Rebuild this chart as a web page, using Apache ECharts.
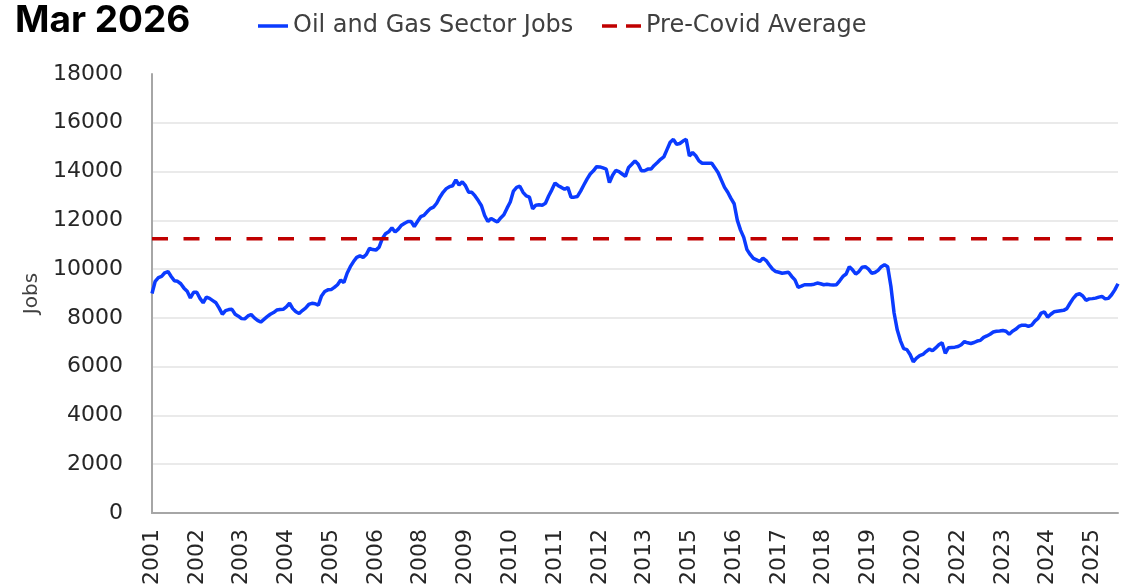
<!DOCTYPE html>
<html>
<head>
<meta charset="utf-8">
<title>Oil and Gas Sector Jobs</title>
<script src="https://cdn.jsdelivr.net/npm/echarts@6.0.0/dist/echarts.min.js"></script>
<style>
	html,body{margin:0;padding:0;background:#fff;}
	#chart{width:1122px;height:588px;}
</style>
</head>
<body>
<div id="chart"></div>
<script>
// monthly series, Jan 2001 .. Mar 2026
var startYear = 2001;
var jobs = [
	9000, 9500, 9650, 9700, 9850, 9900, 9700, 9520, 9500, 9400, 9220, 9090,          // 2001
	8820, 9050, 9050, 8800, 8620, 8850, 8800, 8710, 8620, 8400, 8150, 8300,          // 2002
	8340, 8350, 8150, 8070, 7970, 7960, 8080, 8140, 8000, 7900, 7830, 7940,          // 2003
	8050, 8150, 8220, 8320, 8340, 8350, 8450, 8600, 8380, 8250, 8180, 8300,          // 2004
	8400, 8550, 8600, 8580, 8520, 8900, 9080, 9150, 9160, 9250, 9360, 9550,          // 2005
	9450, 9830, 10100, 10310, 10480, 10540, 10480, 10600, 10850, 10800, 10780, 10900, // 2006
	11250, 11450, 11530, 11690, 11520, 11640, 11800, 11880, 11950, 11950, 11750, 11950, // 2007
	12150, 12200, 12350, 12480, 12540, 12700, 12950, 13150, 13300, 13380, 13420, 13660, // 2008
	13450, 13580, 13420, 13150, 13150, 13000, 12810, 12600, 12200, 11950, 12080, 12000, // 2009
	11930, 12100, 12230, 12500, 12750, 13200, 13350, 13400, 13150, 13000, 12950, 12470, // 2010
	12620, 12640, 12620, 12700, 13000, 13250, 13530, 13420, 13350, 13270, 13350, 12950, // 2011
	12950, 12980, 13200, 13450, 13690, 13900, 14030, 14200, 14190, 14150, 14100, 13550, // 2012
	13850, 14050, 14000, 13900, 13800, 14170, 14300, 14440, 14300, 14030, 14030, 14100, // 2013
	14100, 14250, 14370, 14500, 14600, 14900, 15200, 15320, 15120, 15150, 15250, 15320, // 2014
	14640, 14780, 14650, 14440, 14340, 14340, 14340, 14340, 14150, 13950, 13650, 13350, // 2015
	13150, 12900, 12680, 12000, 11600, 11300, 10800, 10600, 10440, 10380, 10310, 10450, // 2016
	10350, 10170, 10000, 9900, 9870, 9830, 9850, 9870, 9700, 9560, 9250, 9300,       // 2017
	9360, 9360, 9360, 9380, 9430, 9400, 9360, 9380, 9360, 9350, 9360, 9520,          // 2018
	9700, 9800, 10100, 9970, 9800, 9900, 10080, 10100, 10000, 9830, 9860, 9950,      // 2019
	10100, 10180, 10100, 9300, 8200, 7500, 7060, 6740, 6700, 6500, 6200, 6350,       // 2020
	6450, 6500, 6620, 6720, 6650, 6770, 6900, 6980, 6550, 6780, 6790, 6800,          // 2021
	6830, 6900, 7030, 6980, 6950, 6990, 7050, 7080, 7200, 7260, 7330, 7420,          // 2022
	7450, 7460, 7480, 7450, 7330, 7450, 7530, 7650, 7700, 7700, 7650, 7700,          // 2023
	7870, 7980, 8200, 8250, 8030, 8150, 8250, 8270, 8290, 8310, 8380, 8600,          // 2024
	8800, 8950, 8990, 8900, 8720, 8780, 8790, 8810, 8850, 8880, 8780, 8800,          // 2025
	8950, 9150, 9400                                                                 // 2026
];
var preCovidAvg = 11250;
var yTicks = [0, 2000, 4000, 6000, 8000, 10000, 12000, 14000, 16000, 18000];

var months = [];
for (var i = 0; i < jobs.length; i++) {
	var y = startYear + Math.floor(i / 12);
	var m = i % 12 + 1;
	months.push(y + '-' + (m < 10 ? '0' + m : m));
}
var avgLine = [];
for (var j = 0; j < months.length; j++) {
	avgLine.push(preCovidAvg);
}

// grid colours: last entry hides the line at the top tick
var gridColors = [];
for (var k = 0; k < yTicks.length; k++) {
	gridColors.push(k === yTicks.length - 1 ? 'rgba(0,0,0,0)' : '#E3E3E3');
}

var legendText = {fontFamily: 'DejaVu Sans', fontSize: 24, color: '#404040'};

var chart = echarts.init(document.getElementById('chart'), null, {renderer: 'canvas'});

var option = {
	backgroundColor: '#fff',
	animation: false,
	title: {
		text: 'Mar 2026',
		left: 10,
		top: -3,
		textStyle: {
			fontFamily: 'Inter',
			fontWeight: 'bold',
			fontSize: 37,
			color: '#000'
		}
	},
	legend: [
		{
			data: [{name: 'Oil and Gas Sector Jobs', icon: 'rect'}],
			left: 258,
			top: 14,
			padding: 0,
			itemWidth: 30,
			itemHeight: 3.5,
			textStyle: legendText
		},
		{
			data: [{name: 'Pre-Covid Average', icon: 'path://M0,0H15V3.5H0ZM24,0H39V3.5H24Z'}],
			left: 602,
			top: 14,
			padding: 0,
			itemWidth: 39,
			itemHeight: 3.5,
			textStyle: legendText
		}
	],
	grid: {
		left: 152,
		right: 4,
		top: 74,
		bottom: 71
	},
	xAxis: {
		type: 'category',
		data: months,
		boundaryGap: false,
		axisLine: {lineStyle: {color: '#A6A6A6', width: 2}},
		axisTick: {show: false},
		axisLabel: {
			interval: 13,
			rotate: 90,
			margin: 16,
			fontFamily: 'DejaVu Sans',
			fontSize: 22,
			color: '#262626',
			formatter: function (v) { return v.slice(0, 4); }
		},
		splitLine: {show: false}
	},
	yAxis: {
		type: 'value',
		min: yTicks[0],
		max: yTicks[yTicks.length - 1],
		interval: 2000,
		name: 'Jobs',
		nameLocation: 'middle',
		nameGap: 106,
		nameTextStyle: {fontFamily: 'DejaVu Sans', fontSize: 20, color: '#404040'},
		axisLine: {show: true, lineStyle: {color: '#A6A6A6', width: 2}},
		axisTick: {show: false},
		axisLabel: {
			margin: 29,
			fontFamily: 'DejaVu Sans',
			fontSize: 22,
			color: '#262626',
			formatter: function (v) { return String(v); }
		},
		splitLine: {show: true, lineStyle: {color: gridColors, width: 1.5}}
	},
	series: [
		{
			name: 'Oil and Gas Sector Jobs',
			type: 'line',
			data: jobs,
			symbol: 'none',
			color: '#0B3BFF',
			lineStyle: {color: '#0B3BFF', width: 3.5}
		},
		{
			name: 'Pre-Covid Average',
			type: 'line',
			data: avgLine,
			symbol: 'none',
			color: '#C00000',
			lineStyle: {color: '#C00000', width: 3.5, type: [16, 15.5]}
		}
	]
};

chart.setOption(option);
</script>
</body>
</html>
